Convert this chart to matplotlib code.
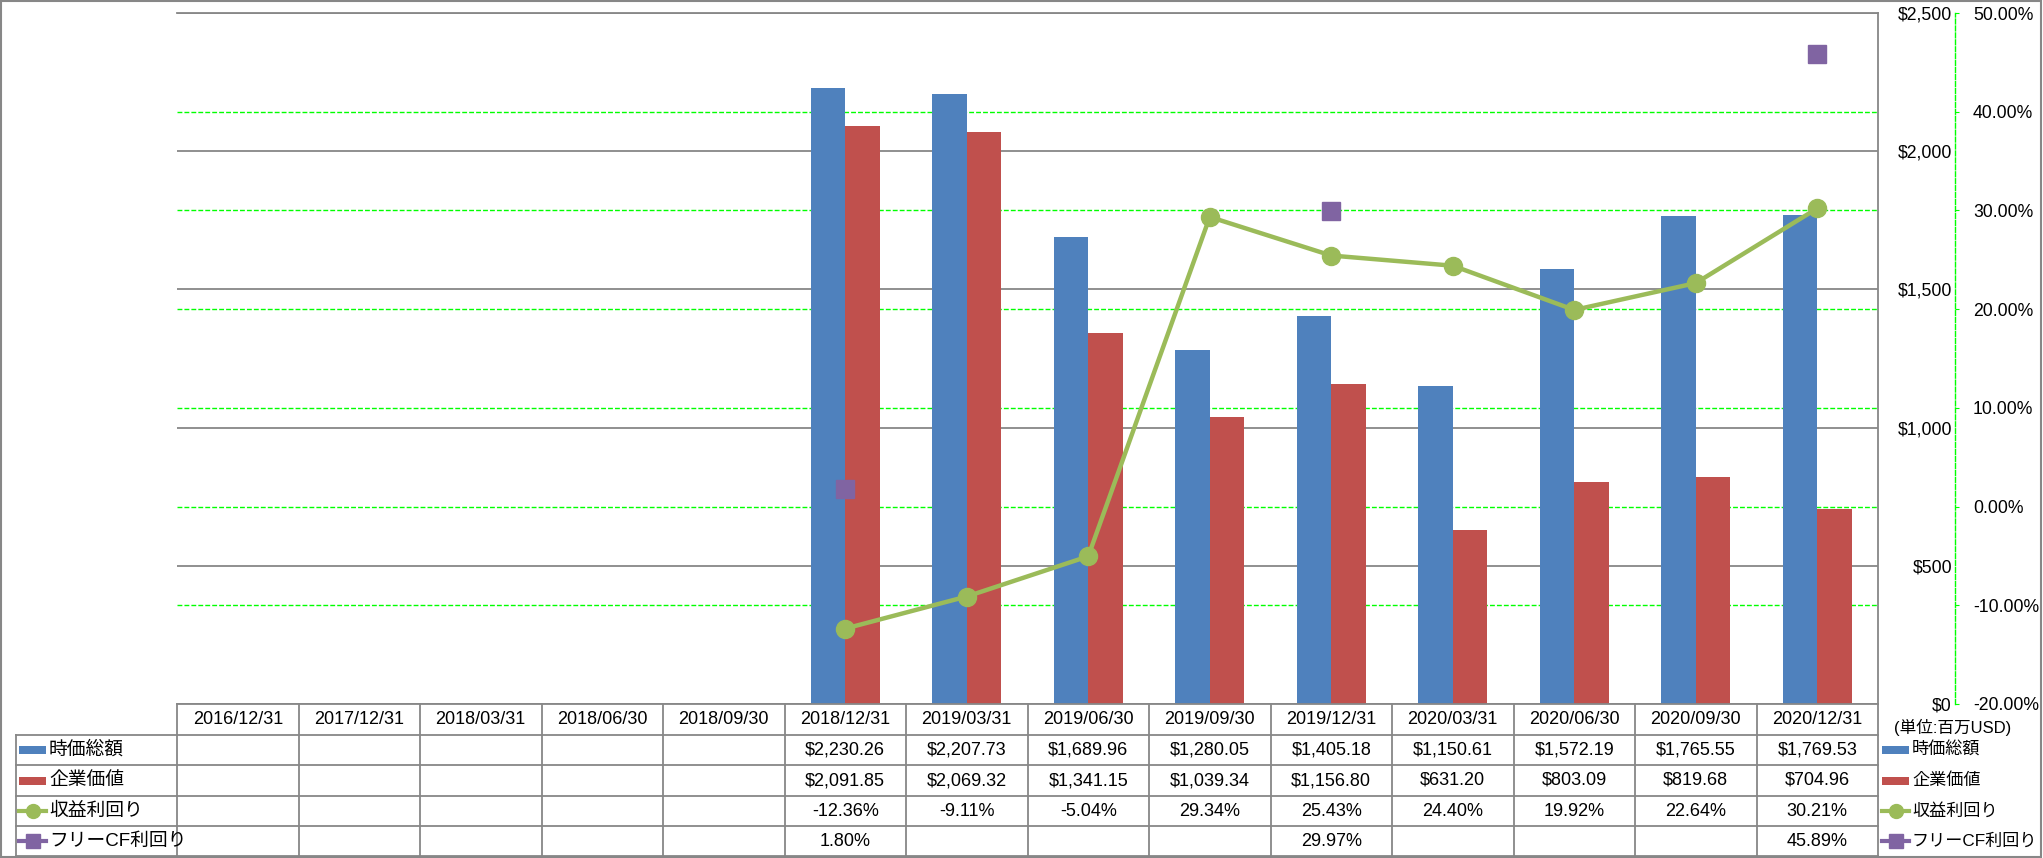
import numpy as np
import matplotlib
matplotlib.use('Agg')
import matplotlib.pyplot as plt
from matplotlib.transforms import blended_transform_factory
from matplotlib.lines import Line2D
from matplotlib.patches import Rectangle

plt.rcParams['font.family'] = ['Liberation Sans', 'Noto Sans CJK JP', 'DejaVu Sans']
plt.rcParams['lines.scale_dashes'] = False

nan = np.nan
dates = ['2016/12/31', '2017/12/31', '2018/03/31', '2018/06/30', '2018/09/30',
         '2018/12/31', '2019/03/31', '2019/06/30', '2019/09/30', '2019/12/31',
         '2020/03/31', '2020/06/30', '2020/09/30', '2020/12/31']
market_cap = [nan, nan, nan, nan, nan, 2230.26, 2207.73, 1689.96, 1280.05,
              1405.18, 1150.61, 1572.19, 1765.55, 1769.53]
enterprise_value = [nan, nan, nan, nan, nan, 2091.85, 2069.32, 1341.15, 1039.34,
                    1156.80, 631.20, 803.09, 819.68, 704.96]
earnings_yield = [nan, nan, nan, nan, nan, -12.36, -9.11, -5.04, 29.34,
                  25.43, 24.40, 19.92, 22.64, 30.21]
fcf_yield = [nan, nan, nan, nan, nan, 1.80, nan, nan, nan,
             29.97, nan, nan, nan, 45.89]
series_names = ['時価総額', '企業価値', '収益利回り', 'フリーCF利回り']
usd_ticks = [0, 500, 1000, 1500, 2000, 2500]
pct_ticks = [-20, -10, 0, 10, 20, 30, 40, 50]

blue = '#4F81BD'
red = '#C0504D'
green = '#9BBB59'
purple = '#8064A2'
lime = '#00FF00'
gray = '#878787'

W, H = 2043, 858
fig = plt.figure(figsize=(W / 100, H / 100), dpi=100)


def fx(px):
    return px / W


def fy(py):
    return 1 - py / H


ax = fig.add_axes([fx(177), fy(704), fx(1878) - fx(177), fy(13) - fy(704)])
ax2 = ax.twinx()

ax.set_xlim(-0.5, len(dates) - 0.5)
ax.set_ylim(0, 2500)
ax.set_xticks([])
ax.yaxis.tick_right()
ax.set_yticks(usd_ticks)
ax.set_yticklabels(['${:,}'.format(v) for v in usd_ticks])
ax.tick_params(axis='y', length=0, pad=53.3, labelsize=12.7)
for t in ax.get_yticklabels():
    t.set_ha('right')
ax.grid(axis='y', color=gray, lw=1.3)
ax.set_axisbelow(True)
ax.spines['left'].set_visible(False)
for s in ['top', 'right', 'bottom']:
    ax.spines[s].set_color(gray)
    ax.spines[s].set_linewidth(1.3)

ax2.set_ylim(-20, 50)
ax2.set_yticks(pct_ticks)
ax2.set_yticklabels(['{:.2f}%'.format(v) for v in pct_ticks])
for t, v in zip(ax2.get_yticklabels(), pct_ticks):
    if v < 0:
        t.set_color('#FF0000')
ax2.tick_params(axis='y', length=3, color=lime, pad=10, labelsize=12.7)
for s in ['top', 'left', 'bottom']:
    ax2.spines[s].set_visible(False)
ax2.spines['right'].set_position(('outward', 55.4))
ax2.spines['right'].set_color(lime)
ax2.spines['right'].set_linestyle((0, (3.5, 1.5)))
ax2.spines['right'].set_linewidth(1)

# percent gridlines under the bars
tr = blended_transform_factory(ax.transAxes, ax2.transData)
for p in pct_ticks[1:-1]:
    ax.plot([0, 1], [p, p], transform=tr, color=lime, lw=1,
            ls=(0, (3.5, 1.5)), zorder=0.8)

x = np.arange(len(dates))
bw = 0.284
ax.bar(x - bw / 2, market_cap, bw, color=blue, zorder=1)
ax.bar(x + bw / 2, enterprise_value, bw, color=red, zorder=1)

ax2.plot(x, earnings_yield, color=green, lw=3.2, marker='o', ms=13, zorder=3)
ax2.plot(x, fcf_yield, color=purple, lw=3.2, marker='s', ms=12.5, zorder=4)

# data table
rows = [704, 735, 765, 796, 826, 856]
tt = blended_transform_factory(ax.transData, fig.transFigure)
for py in rows[1:]:
    fig.add_artist(Line2D([fx(16), fx(1878)], [fy(py), fy(py)], color=gray, lw=1.3))
fig.add_artist(Line2D([fx(16), fx(16)], [fy(735), fy(856)], color=gray, lw=1.3))
for k in range(len(dates) + 1):
    ax.add_artist(Line2D([k - 0.5, k - 0.5], [fy(704), fy(856)], transform=tt,
                         color=gray, lw=1.3, clip_on=False))


def mid(r):
    return fy((rows[r] + rows[r + 1]) / 2)


def usd(v):
    return '' if np.isnan(v) else '${:,.2f}'.format(v)


def pct(v):
    return '' if np.isnan(v) else '{:.2f}%'.format(v)


table_rows = [[usd(v) for v in market_cap],
              [usd(v) for v in enterprise_value],
              [pct(v) for v in earnings_yield],
              [pct(v) for v in fcf_yield]]
for i, d in enumerate(dates):
    ax.text(i, mid(0), d, transform=tt, ha='center', va='center', fontsize=13)
    for r, vals in enumerate(table_rows):
        ax.text(i, mid(r + 1), vals[i], transform=tt, ha='center', va='center',
                fontsize=13)


def handle(x0, x1, yc, kind):
    if kind < 2:
        c = [blue, red][kind]
        fig.add_artist(Rectangle((fx(x0), fy(yc + 4)), fx(x1) - fx(x0), 8 / H,
                                 color=c, lw=0))
    else:
        c = [green, purple][kind - 2]
        m = ['o', 's'][kind - 2]
        fig.add_artist(Line2D([fx(x0), fx(x1)], [fy(yc), fy(yc)], color=c, lw=3))
        fig.add_artist(Line2D([fx((x0 + x1) / 2)], [fy(yc)], color=c, marker=m,
                              ms=10, lw=0))


for r, name in enumerate(series_names):
    yc = (rows[r + 1] + rows[r + 2]) / 2
    handle(19, 46, yc, r)
    fig.text(fx(49), fy(yc), name, ha='left', va='center', fontsize=13.5)
    handle(1882, 1909, yc, r)
    fig.text(fx(1912), fy(yc), name, ha='left', va='center', fontsize=12.3)

fig.text(fx(1953), fy(727), '(単位:百万USD)', ha='center', va='center', fontsize=12)

fig.add_artist(Rectangle((fx(1), fy(857)), fx(2041) - fx(1), fy(1) - fy(857),
                         fill=False, edgecolor=gray, lw=1.5))

fig.savefig('out.png', dpi=100)
